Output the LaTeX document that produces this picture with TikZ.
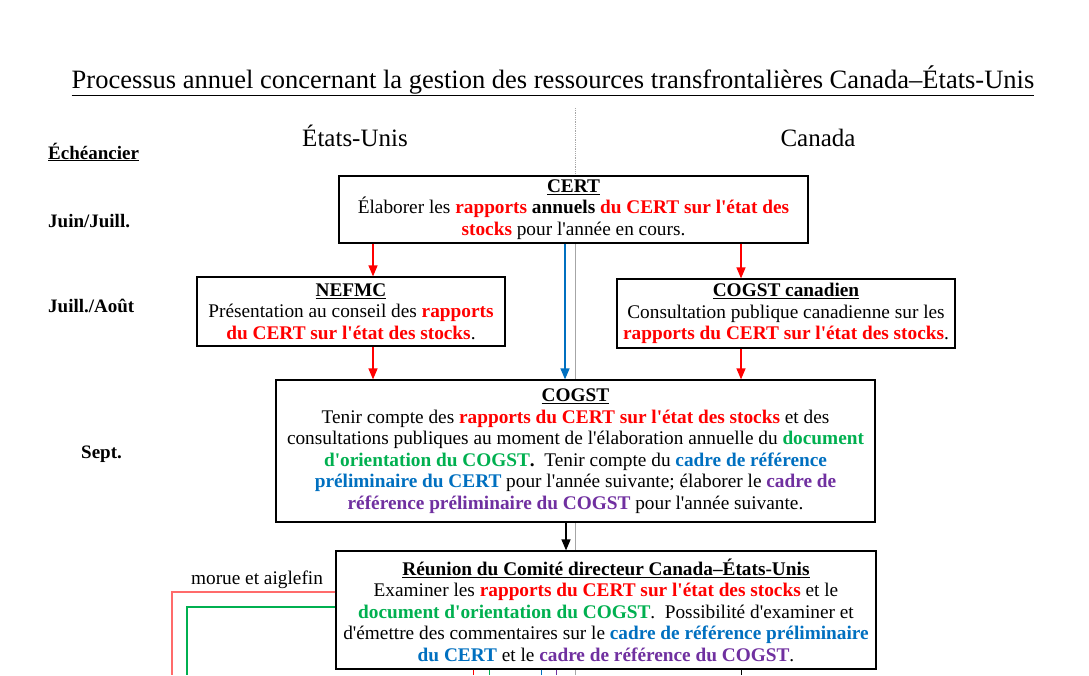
\documentclass[tikz,border=0pt]{standalone}
\usepackage{fontspec}
\setmainfont{Liberation Serif}[Ligatures=TeXOff]
\usetikzlibrary{arrows.meta}

\definecolor{rapportrouge}{HTML}{FF0000}
\definecolor{docvert}{HTML}{00B050}
\definecolor{cadrebleu}{HTML}{0070C0}
\definecolor{cadreviolet}{HTML}{7030A0}
\definecolor{lignerose}{HTML}{FF6B6B}
\definecolor{lignegrise}{HTML}{A6A6A6}

\newcommand{\rouge}[1]{\textcolor{rapportrouge}{\textbf{#1}}}
\newcommand{\verte}[1]{\textcolor{docvert}{\textbf{#1}}}
\newcommand{\bleu}[1]{\textcolor{cadrebleu}{\textbf{#1}}}
\newcommand{\violet}[1]{\textcolor{cadreviolet}{\textbf{#1}}}
\newcommand{\titre}[1]{\underline{\textbf{#1}}}

\begin{document}
\begin{tikzpicture}[x=1pt,y=-1pt,
    boite/.style={draw, line width=1.2pt, fill=white, inner sep=0pt, align=center,
      font=\fontsize{19.3}{21.5}\selectfont},
    fleche/.style={line width=1.3pt, -{Triangle[width=9pt,length=11pt]}},
    mois/.style={anchor=base west, inner sep=0pt, font=\fontsize{19}{22}\selectfont\bfseries},
    entete/.style={anchor=base, font=\fontsize{25}{30}\selectfont}]
  \useasboundingbox (0,0) rectangle (1089,675);

  % ligne de partage Etats-Unis / Canada
  \draw[lignegrise, line width=0.8pt, densely dotted] (575,108) -- (575,176);
  \draw[lignegrise, line width=0.8pt] (575,243) -- (575,675);

  % titre et colonnes
  \node[entete, font=\fontsize{26.5}{30}\selectfont] (titre) at (553,88) {\underline{Processus annuel concernant la gestion des ressources transfrontalières Canada–États-Unis}};
  \node[entete] (eu) at (355,146) {États-Unis};
  \node[entete] (ca) at (818,146) {Canada};

  % echeancier
  \node[mois] (ech) at (48,159) {\underline{Échéancier}};
  \node[mois] (juin) at (48,227) {Juin/Juill.};
  \node[mois] (aout) at (48,312) {Juill./Août};
  \node[mois] (sept) at (81,458) {Sept.};

  % les boites
  \node[boite, minimum width=469pt, minimum height=67pt] (cert) at (573.5,209.5)
    {\titre{CERT}\\
     Élaborer les \rouge{rapports} \textbf{annuels} \rouge{du CERT sur l'état des}\\
     \rouge{stocks} pour l'année en cours.};
  \node[boite, minimum width=308pt, minimum height=69pt] (nefmc) at (351,311.5)
    {\titre{NEFMC}\\
     Présentation au conseil des \rouge{rapports}\\
     \rouge{du CERT sur l'état des stocks}.};
  \node[boite, minimum width=338pt, minimum height=69pt] (cogstca) at (786,313.5)
    {\titre{COGST canadien}\\
     Consultation publique canadienne sur les\\
     \rouge{rapports du CERT sur l'état des stocks}.};
  \node[boite, minimum width=599pt, minimum height=142pt] (cogst) at (575.5,451)
    {\titre{COGST}\\
     Tenir compte des \rouge{rapports du CERT sur l'état des stocks} et des\\
     consultations publiques au moment de l'élaboration annuelle du \verte{document}\\
     \verte{d'orientation du COGST}\textbf{.}\ \ Tenir compte du \bleu{cadre de référence}\\
     \bleu{préliminaire du CERT} pour l'année suivante; élaborer le \violet{cadre de}\\
     \violet{référence préliminaire du COGST} pour l'année suivante.};
  \node[boite, minimum width=540pt, minimum height=118pt] (reunion) at (606,610)
    {\titre{Réunion du Comité directeur Canada–États-Unis}\\
     Examiner les \rouge{rapports du CERT sur l'état des stocks} et le\\
     \verte{document d'orientation du COGST}.\ \ Possibilité d'examiner et\\
     d'émettre des commentaires sur le \bleu{cadre de référence préliminaire}\\
     \bleu{du CERT} et le \violet{cadre de référence du COGST}.};

  % fleches
  \draw[fleche, rapportrouge] (373,0 |- cert.south) -- (373,0 |- nefmc.north);
  \draw[fleche, rapportrouge] (741,0 |- cert.south) -- (741,0 |- cogstca.north);
  \draw[fleche, cadrebleu] (565,0 |- cert.south) -- (565,0 |- cogst.north);
  \draw[fleche, rapportrouge] (373,0 |- nefmc.south) -- (373,0 |- cogst.north);
  \draw[fleche, rapportrouge] (741,0 |- cogstca.south) -- (741,0 |- cogst.north);
  \draw[fleche, black] (566,0 |- cogst.south) -- (566,0 |- reunion.north);

  % morue et aiglefin
  \node[anchor=base, font=\fontsize{19.3}{22}\selectfont] (morue) at (257,584) {morue et aiglefin};
  \draw[lignerose, line width=1.2pt] (reunion.west |- 0,592) -- (172,592) -- (172,675);
  \draw[docvert, line width=1.2pt] (reunion.west |- 0,607) -- (187,607) -- (187,675);

  % suite vers le bas
  \draw[rapportrouge, line width=1pt] (473,0 |- reunion.south) -- (473,675);
  \draw[docvert, line width=1pt] (489,0 |- reunion.south) -- (489,675);
  \draw[cadrebleu, line width=1pt] (541,0 |- reunion.south) -- (541,675);
  \draw[cadreviolet, line width=1pt] (556,0 |- reunion.south) -- (556,675);
  \draw[black, line width=1pt] (741,0 |- reunion.south) -- (741,675);
\end{tikzpicture}
\end{document}
